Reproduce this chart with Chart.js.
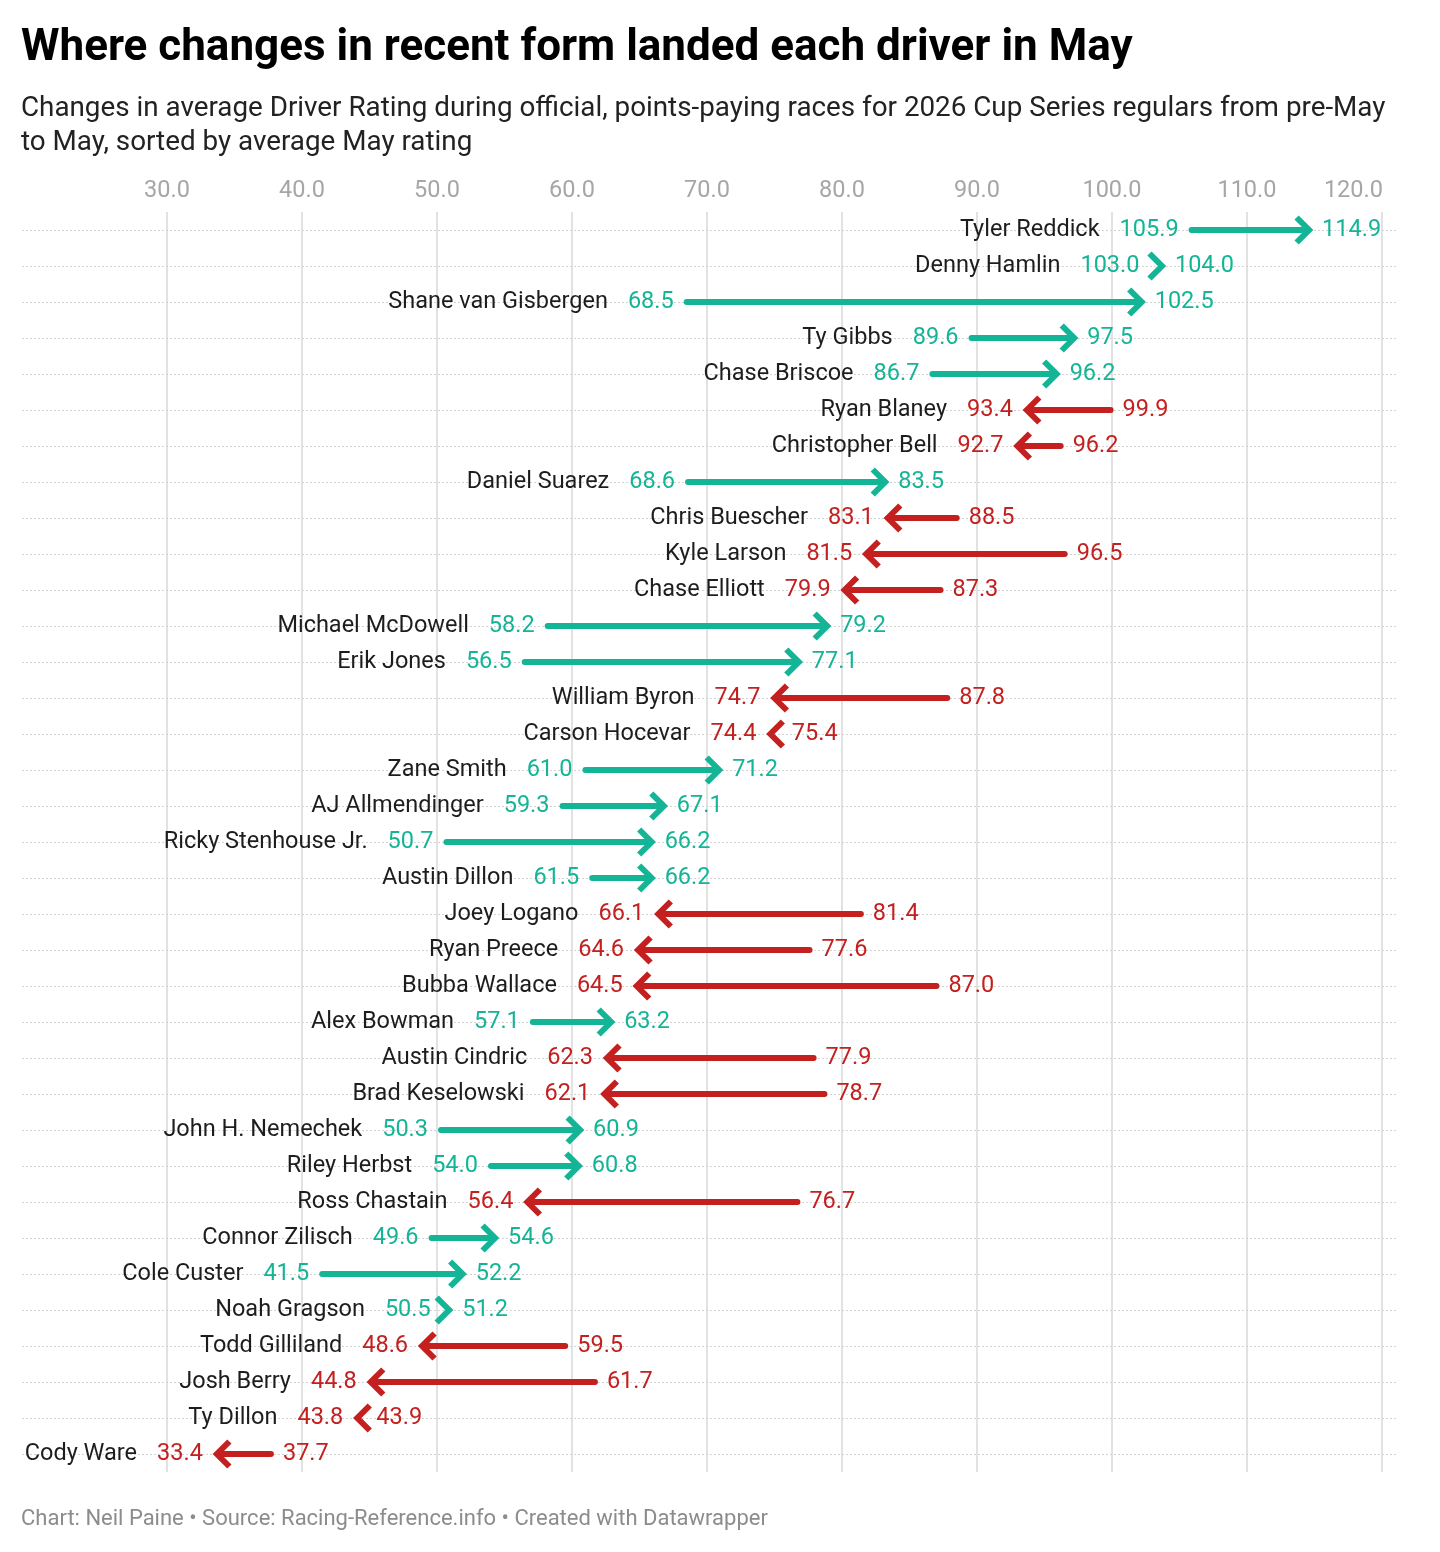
<!DOCTYPE html>
<html>
<head>
<meta charset="utf-8">
<script src="https://cdn.jsdelivr.net/npm/chart.js@4.4.1/dist/chart.umd.min.js"></script>
<style>
  body { margin: 0; background: #fff; font-family: Roboto, sans-serif; }
  #wrap { position: relative; width: 1440px; height: 1552px; overflow: hidden; }
  canvas { position: absolute; left: 0; top: 0; }
  h1 { position: absolute; left: 21px; top: 19px; margin: 0; font-size: 44px; line-height: 52px; font-weight: 700; color: #000; }
  .sub { position: absolute; left: 21px; top: 90px; width: 1385px; font-size: 27.8px; line-height: 34px; color: #222; }
  .foot { position: absolute; left: 21px; top: 1505px; font-size: 22px; line-height: 26px; color: #8c8c8c; }
</style>
</head>
<body>
<div id="wrap">
  <canvas id="grafica" width="1440" height="1552"></canvas>
  <h1>Where changes in recent form landed each driver in May</h1>
  <div class="sub">Changes in average Driver Rating during official, points-paying races for 2026 Cup Series regulars from pre-May to May, sorted by average May rating</div>
  <div class="foot">Chart: Neil Paine • Source: Racing-Reference.info • Created with Datawrapper</div>
</div>
<script>
var drivers = ["Tyler Reddick", "Denny Hamlin", "Shane van Gisbergen", "Ty Gibbs", "Chase Briscoe",
  "Ryan Blaney", "Christopher Bell", "Daniel Suarez", "Chris Buescher", "Kyle Larson",
  "Chase Elliott", "Michael McDowell", "Erik Jones", "William Byron", "Carson Hocevar",
  "Zane Smith", "AJ Allmendinger", "Ricky Stenhouse Jr.", "Austin Dillon", "Joey Logano",
  "Ryan Preece", "Bubba Wallace", "Alex Bowman", "Austin Cindric", "Brad Keselowski",
  "John H. Nemechek", "Riley Herbst", "Ross Chastain", "Connor Zilisch", "Cole Custer",
  "Noah Gragson", "Todd Gilliland", "Josh Berry", "Ty Dillon", "Cody Ware"];
var preMay = [105.9, 103.0, 68.5, 89.6, 86.7, 99.9, 96.2, 68.6, 88.5, 96.5,
  87.3, 58.2, 56.5, 87.8, 75.4, 61.0, 59.3, 50.7, 61.5, 81.4,
  77.6, 87.0, 57.1, 77.9, 78.7, 50.3, 54.0, 76.7, 49.6, 41.5,
  50.5, 59.5, 61.7, 43.9, 37.7];
var may = [114.9, 104.0, 102.5, 97.5, 96.2, 93.4, 92.7, 83.5, 83.1, 81.5,
  79.9, 79.2, 77.1, 74.7, 74.4, 71.2, 67.1, 66.2, 66.2, 66.1,
  64.6, 64.5, 63.2, 62.3, 62.1, 60.9, 60.8, 56.4, 54.6, 52.2,
  51.2, 48.6, 44.8, 43.8, 33.4];
var xTicks = [30, 40, 50, 60, 70, 80, 90, 100, 110, 120];

var teal = '#14b596';
var red = '#c4201f';

var flechas = {
  id: 'flechas',
  afterDraw: function(chart) {
    var ctx = chart.ctx;
    var sx = chart.scales.x, sy = chart.scales.y;
    ctx.save();
    ctx.textBaseline = 'middle';
    // tick labels on top
    ctx.font = '23.5px Roboto';
    ctx.fillStyle = '#a6a6a6';
    xTicks.forEach(function(t, k) {
      var last = k === xTicks.length - 1;
      ctx.textAlign = last ? 'right' : 'center';
      ctx.fillText(t.toFixed(1), sx.getPixelForValue(t) + (last ? 1 : 0), 191);
    });
    drivers.forEach(function(name, i) {
      var a = sx.getPixelForValue(preMay[i]);
      var b = sx.getPixelForValue(may[i]);
      var py = sy.getPixelForValue(i);
      var up = may[i] >= preMay[i];
      var col = up ? teal : red;
      var dir = up ? 1 : -1;
      var vx = b - dir * 4;
      ctx.strokeStyle = col;
      ctx.lineWidth = 6;
      if (Math.abs(b - a) > 14) {
        ctx.lineCap = 'round';
        ctx.beginPath();
        ctx.moveTo(a, py);
        ctx.lineTo(vx - dir * 3, py);
        ctx.stroke();
      }
      ctx.lineCap = 'butt';
      ctx.lineJoin = 'miter';
      ctx.beginPath();
      ctx.moveTo(vx - dir * 12.5, py - 12.5);
      ctx.lineTo(vx, py);
      ctx.lineTo(vx - dir * 12.5, py + 12.5);
      ctx.stroke();

      var left, right, lo, hi;
      if (up) {
        left = a - 3; right = b;
        lo = preMay[i]; hi = may[i];
      } else {
        left = b; right = Math.max(a + 3, b + 14);
        lo = may[i]; hi = preMay[i];
      }
      ctx.font = '23.5px Roboto';
      ctx.fillStyle = col;
      ctx.textAlign = 'right';
      var lx = left - 10;
      ctx.fillText(lo.toFixed(1), lx, py);
      var w = ctx.measureText(lo.toFixed(1)).width;
      ctx.textAlign = 'left';
      ctx.fillText(hi.toFixed(1), right + 9, py);
      ctx.fillStyle = '#1d1d1d';
      ctx.textAlign = 'right';
      ctx.fillText(name, lx - w - 20, py);
    });
    ctx.restore();
  }
};

new Chart(document.getElementById('grafica'), {
  type: 'scatter',
  data: {
    datasets: [
      { label: 'pre-May', data: drivers.map(function(d, i) { return { x: preMay[i], y: i }; }), pointRadius: 0 },
      { label: 'May', data: drivers.map(function(d, i) { return { x: may[i], y: i }; }), pointRadius: 0 }
    ]
  },
  options: {
    responsive: false,
    animation: false,
    layout: { padding: { left: 22, right: 42, top: 212, bottom: 80 } },
    plugins: { legend: { display: false }, tooltip: { enabled: false } },
    scales: {
      x: {
        type: 'linear', position: 'top', min: 19.26, max: 121.19,
        afterBuildTicks: function(ax) { ax.ticks = xTicks.map(function(v) { return { value: v }; }); },
        ticks: { display: false },
        grid: { color: '#e2e2e2', lineWidth: 2, drawTicks: false },
        border: { display: false }
      },
      y: {
        type: 'linear', reverse: true, min: -0.5, max: 34.5,
        afterBuildTicks: function(ax) { ax.ticks = drivers.map(function(d, i) { return { value: i }; }); },
        ticks: { display: false },
        grid: { color: '#d2d2d2', lineWidth: 1, drawTicks: false },
        border: { display: false, dash: [2, 2] }
      }
    }
  },
  plugins: [flechas]
});
</script>
</body>
</html>
